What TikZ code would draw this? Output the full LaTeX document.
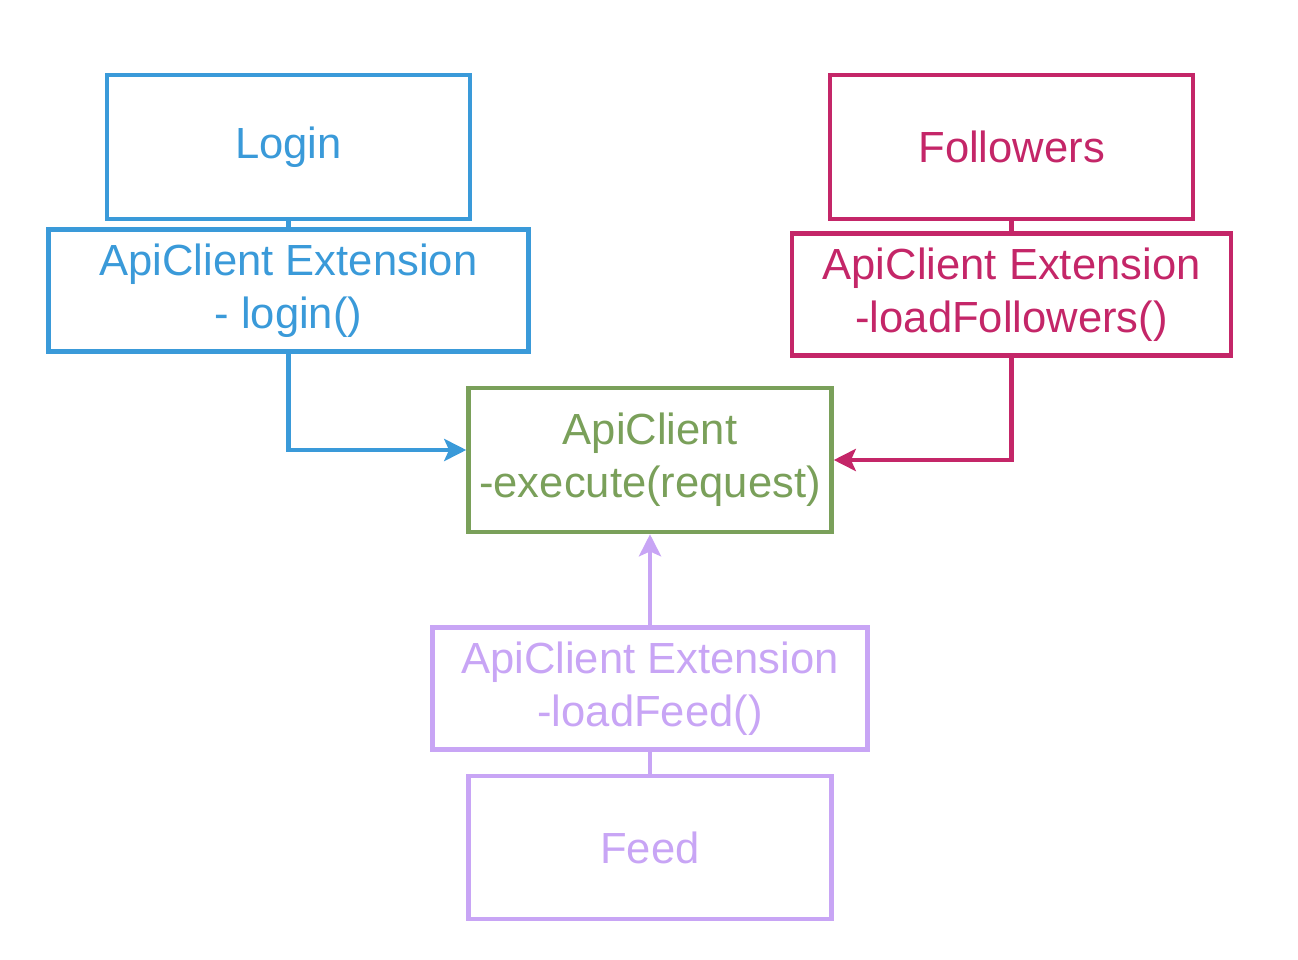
\documentclass[tikz,border=0pt]{standalone}
\usepackage{fontspec}
\setmainfont{Liberation Sans}
\usetikzlibrary{positioning, arrows.meta}

\definecolor{loginblue}{RGB}{58,154,217}
\definecolor{followpink}{RGB}{196,38,104}
\definecolor{apigreen}{RGB}{122,160,90}
\definecolor{feedlilac}{RGB}{200,165,245}

\begin{document}
\begin{tikzpicture}[
        box/.style={draw, rectangle, line width=3.2pt, align=center, inner sep=0pt,
            font=\fontsize{31}{37.5}\selectfont}, % Стиль блоков
        screen/.style={box, minimum width=9.075cm, minimum height=3.6cm},
        ext/.style={box, minimum height=3.05cm},
        link/.style={line width=3.2pt},
        call/.style={link, -{Stealth[length=0.55cm, width=0.55cm, inset=0.12cm]}},
    ]
    \useasboundingbox (0,0) rectangle (32.45,-24);

    % Центральный клиент
    \node[screen, apigreen] (api) at (16.25,-11.5) {ApiClient\\-execute(request)};

    % Login
    \node[screen, loginblue] (login) at (7.21,-3.675) {Login};
    \node[ext, loginblue, minimum width=12cm, below=0.15cm of login] (loginext) {ApiClient Extension\\- login()};

    % Followers
    \node[screen, followpink] (follow) at (25.29,-3.675) {Followers};
    \node[ext, followpink, minimum width=10.975cm, below=0.25cm of follow] (followext) {ApiClient Extension\\-loadFollowers()};

    % Feed
    \node[screen, feedlilac, minimum height=3.575cm] (feed) at (16.25,-21.19) {Feed};
    \node[ext, feedlilac, minimum width=10.875cm, above=0.55cm of feed] (feedext) {ApiClient Extension\\-loadFeed()};

    % Связи
    \draw[link, loginblue] (login) -- (loginext);
    \draw[call, loginblue] (loginext.south) |- ([yshift=0.25cm]api.west);
    \draw[link, followpink] (follow) -- (followext);
    \draw[call, followpink] (followext.south) |- (api.east);
    \draw[link, feedlilac] (feed) -- (feedext);
    \draw[call, feedlilac] (feedext) -- (api);
\end{tikzpicture}
\end{document}
